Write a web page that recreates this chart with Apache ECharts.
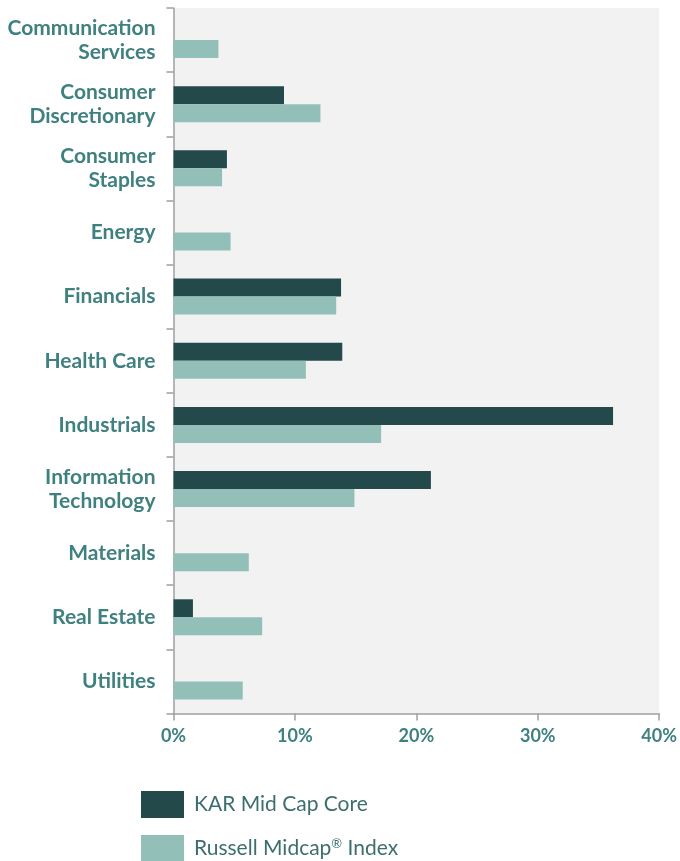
<!DOCTYPE html>
<html><head><meta charset="utf-8">
<script src="https://cdn.jsdelivr.net/npm/echarts@6/dist/echarts.min.js"></script>
<style>html,body{margin:0;padding:0;background:#fff}#c{width:680px;height:861px}</style>
</head><body><div id="c"></div>
<script>
const categories = ['Communication\nServices','Consumer\nDiscretionary','Consumer\nStaples','Energy','Financials','Health Care','Industrials','Information\nTechnology','Materials','Real Estate','Utilities'];
const karValues = [0, 9.1, 4.4, 0, 13.8, 13.9, 36.2, 21.2, 0, 1.6, 0];
const russellValues = [3.7, 12.1, 4.0, 4.7, 13.4, 10.9, 17.1, 14.9, 6.2, 7.3, 5.7];
const seriesNames = ['KAR Mid Cap Core', 'Russell Midcap® Index'];
const xTicks = [0, 10, 20, 30, 40];

const teal = '#3f8080';
const chart = echarts.init(document.getElementById('c'));
chart.setOption({
  animation: false,
  grid: {left: 173.5, right: 20, top: 8, bottom: 147.5, show: true, backgroundColor: '#f2f2f2', borderWidth: 0},
  legend: {
    orient: 'vertical', left: 141, top: 791, height: 120, itemWidth: 43, itemHeight: 27, itemGap: 17,
    padding: 0,
    icon: 'rect', selectedMode: false,
    data: seriesNames,
    formatter: n => n.indexOf('®') >= 0 ? '{a|Russell Midcap}{s|®}{a| Index}' : '{a|' + n + '}',
    textStyle: {
      padding: [0, 0, 0, 5],
      rich: {
        a: {fontFamily: 'Lato', fontSize: 21, color: '#3d6e6e'},
        s: {fontFamily: 'Lato', fontSize: 13, color: '#3d6e6e', padding: [0, 0, 10, 0]}
      }
    }
  },
  xAxis: {
    type: 'value', min: xTicks[0], max: xTicks[xTicks.length - 1], interval: 10,
    axisLine: {show: true, lineStyle: {color: '#a0a0a0', width: 1.5}},
    axisTick: {show: true, length: 7, lineStyle: {color: '#a0a0a0', width: 1.5}},
    splitLine: {show: false},
    axisLabel: {formatter: '{value}%', color: teal, fontFamily: 'Lato', fontWeight: 'bold', fontSize: 18, margin: 14}
  },
  yAxis: {
    type: 'category', data: categories, inverse: true,
    axisLine: {show: true, lineStyle: {color: '#a0a0a0', width: 1.5}},
    axisTick: {show: true, length: 7, lineStyle: {color: '#a0a0a0', width: 1.5}},
    axisLabel: {color: teal, fontFamily: 'Lato', fontWeight: 'bold', fontSize: 21, lineHeight: 24, margin: 18, align: 'right'}
  },
  series: [
    {name: seriesNames[0], type: 'bar', data: karValues, barWidth: 18, barGap: '0%', itemStyle: {color: '#23494b'}},
    {name: seriesNames[1], type: 'bar', data: russellValues, barWidth: 18, barGap: '0%', itemStyle: {color: '#93bfb9'}}
  ]
});
</script></body></html>
